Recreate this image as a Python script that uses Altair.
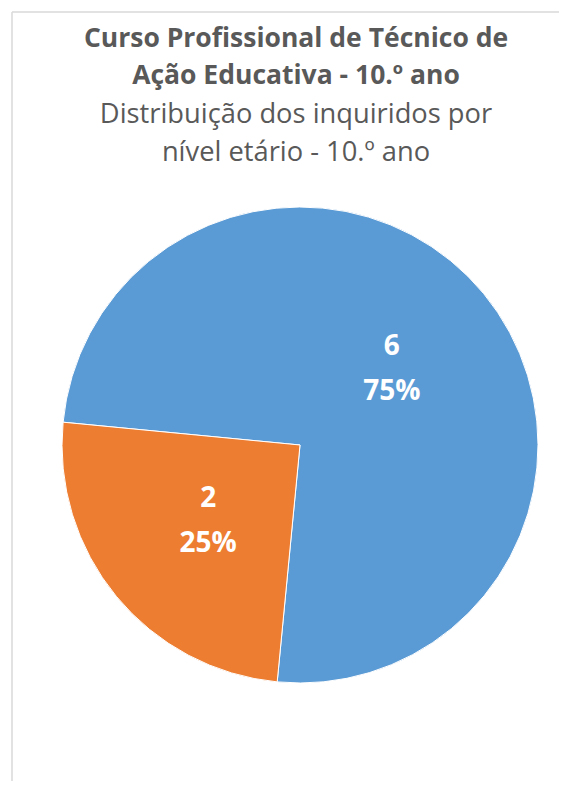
import math
import altair as alt
import pandas as pd

# ---- data ----
categorias = ["Grupo 1", "Grupo 2"]
valores = [6, 2]
cores = ["#5B9BD5", "#ED7D31"]
titulo = ["Curso Profissional de Técnico de", "Ação Educativa - 10.º ano"]
subtitulo = ["Distribuição dos inquiridos por", "nível etário - 10.º ano"]

total = sum(valores)
df = pd.DataFrame({
    "categoria": categorias,
    "n": valores,
    "ordem": list(range(len(valores))),
    "rotulo": [f"{v}\n{round(100 * v / total)}%" for v in valores],
})

inicio = math.radians(275.5)
theta_scale = alt.Scale(range=[inicio, inicio + 2 * math.pi])

W, H = 547, 769

base = alt.Chart(df).encode(
    theta=alt.Theta("n:Q", stack=True, scale=theta_scale),
    order=alt.Order("ordem:Q"),
    x=alt.value(288),
    y=alt.value(433),
)

arcos = base.mark_arc(outerRadius=238, stroke="white", strokeWidth=1).encode(
    color=alt.Color("categoria:N", scale=alt.Scale(domain=categorias, range=cores), legend=None)
)

rotulos = base.mark_text(
    radius=119, font="Open Sans", fontSize=28, fontWeight="bold", color="white",
    lineBreak="\n", lineHeight=45, align="center", baseline="middle", dy=-22,
).encode(text="rotulo:N")

# chart-area border (left and top edges only visible in the reference)
borda = alt.Chart(pd.DataFrame({"b": [0]}))
borda_esq = borda.mark_rule(color="#d9d9d9", strokeWidth=1.5).encode(
    x=alt.value(0), y=alt.value(0), y2=alt.value(H + 10)
)
borda_top = borda.mark_rule(color="#d9d9d9", strokeWidth=1.5).encode(
    y=alt.value(0), x=alt.value(0), x2=alt.value(W + 10)
)

chart = alt.layer(arcos, rotulos, borda_esq, borda_top).properties(
    width=W,
    height=H,
    autosize=alt.AutoSizeParams(type="none"),
    padding={"left": 4, "top": 4, "right": 0, "bottom": 0},
    title=alt.TitleParams(
        text=titulo,
        subtitle=subtitulo,
        anchor="middle",
        font="Open Sans", fontSize=26.5, fontWeight="bold", color="#595959", lineHeight=37,
        subtitleFont="Open Sans", subtitleFontSize=27.3, subtitleFontWeight="normal",
        subtitleColor="#595959", subtitleLineHeight=38, subtitlePadding=11,
        offset=-155, dx=10.5,
    ),
).configure_view(stroke=None)

chart.save("out.html", embed_options={"renderer": "svg", "actions": False})
